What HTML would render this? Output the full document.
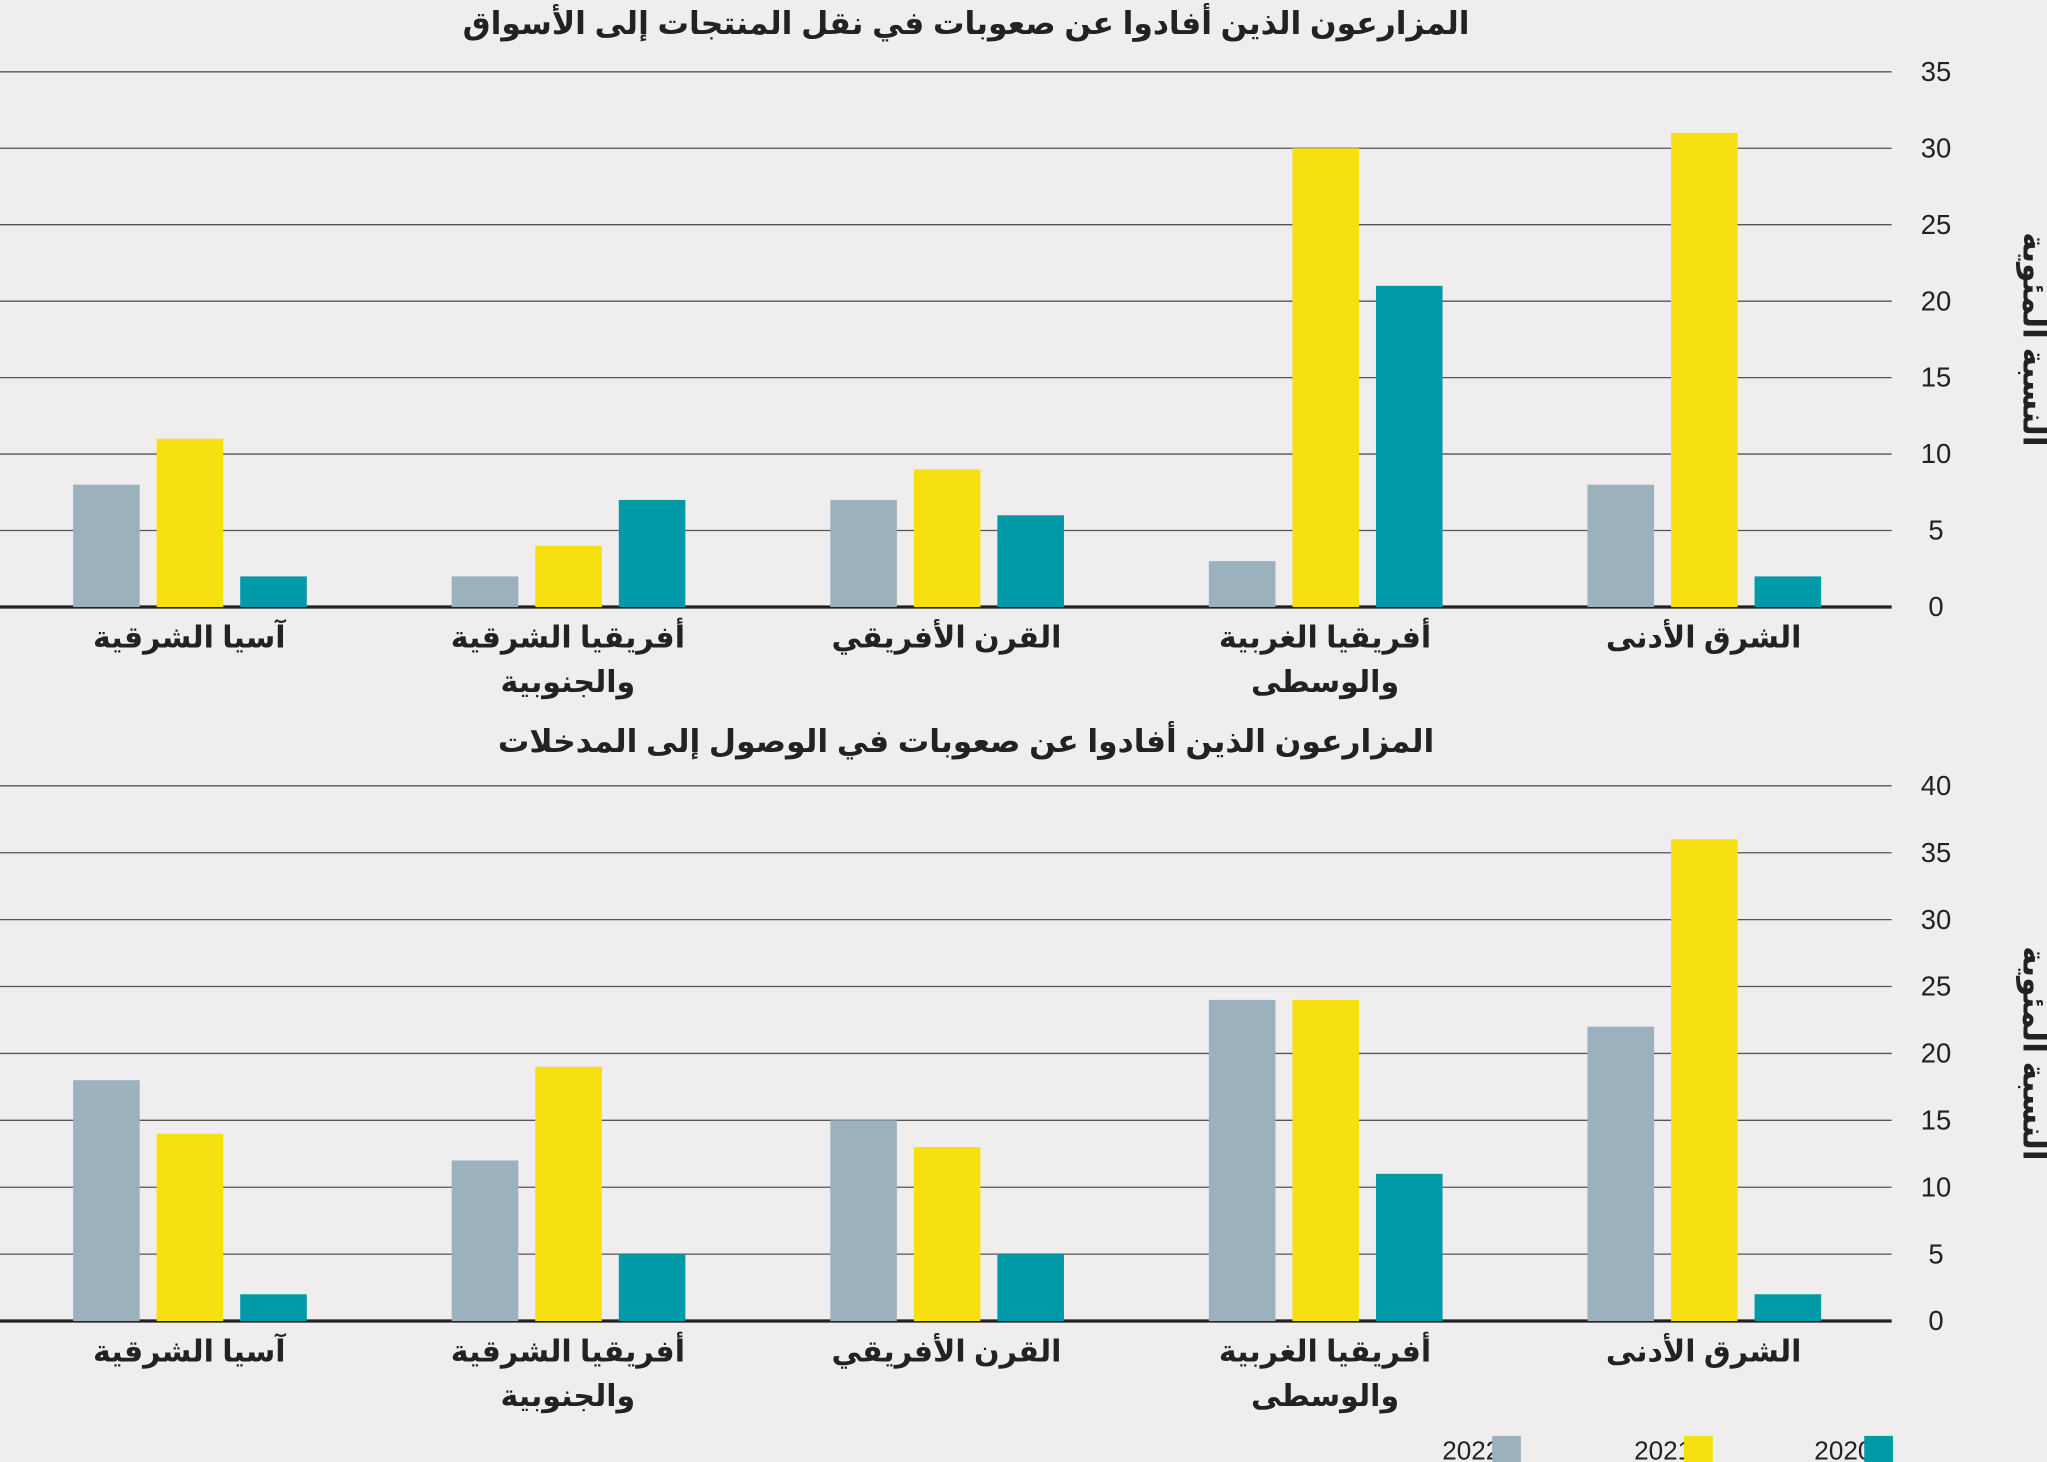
<!DOCTYPE html>
<html><head><meta charset="utf-8"><style>
html,body{margin:0;padding:0;background:#efeded;}
svg{display:block;font-family:"Liberation Sans","DejaVu Sans",sans-serif;}
</style></head><body>
<svg id="chart" width="2047" height="1462" viewBox="0 0 1568 1120" preserveAspectRatio="none" xmlns="http://www.w3.org/2000/svg">
<rect width="1568" height="1120" fill="#efeded"/>
<g id="g1"></g>
<g id="g2"></g>
<g id="legend"></g>
</svg>
<script>
const categories = [["آسيا الشرقية"],["أفريقيا الشرقية","والجنوبية"],["القرن الأفريقي"],["أفريقيا الغربية","والوسطى"],["الشرق الأدنى"]];
const years = ["2022","2021","2020"];
const colors = ["#9bb1be","#f6e012","#0099a8"];
const top2022 = [8,2,7,3,8];
const top2021 = [11,4,9,30,31];
const top2020 = [2,7,6,21,2];
const topTicks = [0,5,10,15,20,25,30,35];
const bot2022 = [18,12,15,24,22];
const bot2021 = [14,19,13,24,36];
const bot2020 = [2,5,5,11,2];
const botTicks = [0,5,10,15,20,25,30,35,40];
const NS="http://www.w3.org/2000/svg";
function mk(tag,attrs,parent){const e=document.createElementNS(NS,tag);for(const k in attrs)e.setAttribute(k,attrs[k]);parent.appendChild(e);return e;}
function drawChart(g,title,titleY,yTop,yBase,ticks,series,lblY,key){
  const max=ticks[ticks.length-1];
  const y=v=>yBase-(v/max)*(yBase-yTop);
  const t=mk('text',{x:740,y:titleY,'text-anchor':'middle','font-size':24,'font-weight':'bold',fill:'#222',direction:'rtl'},g);
  t.textContent=title;
  
  
  ticks.forEach(v=>{
    const l=mk('line',{x1:0,x2:1449,y1:y(v),y2:y(v),stroke:v===0?'#222':'#555','stroke-width':v===0?2.5:1},g);
    
    
    const tx=mk('text',{x:1483,y:y(v)+7,'text-anchor':'middle','font-size':21,fill:'#222'},g);
    tx.textContent=v;
    
    
  });
  const cy=(yTop+yBase)/2;
  const at=mk('text',{x:1550,y:cy,'text-anchor':'middle','font-size':24,'font-weight':'bold',fill:'#222',transform:'rotate(90 1550 '+cy+')',direction:'rtl'},g);
  at.textContent='النسبة المئوية';
  
  
  categories.forEach((c,i)=>{
    const gx=56+i*290;
    series.forEach((s,j)=>{
      const r=mk('rect',{x:gx+j*64,y:y(s[i]),width:51,height:yBase-y(s[i]),fill:colors[j]},g);
      
      
    });
    c.forEach((line,k)=>{
      const lt=mk('text',{x:gx+89,y:lblY+k*34,'text-anchor':'middle','font-size':23,'font-weight':'bold',fill:'#222',direction:'rtl'},g);
      lt.textContent=line;
      
      
    });
  });
}
drawChart(document.getElementById('g1'),'المزارعون الذين أفادوا عن صعوبات في نقل المنتجات إلى الأسواق',26,55,465,topTicks,[top2022,top2021,top2020],496,'markets');
drawChart(document.getElementById('g2'),'المزارعون الذين أفادوا عن صعوبات في الوصول إلى المدخلات',576,602,1012,botTicks,[bot2022,bot2021,bot2020],1043,'inputs');
const lg=document.getElementById('legend');
const lx=[1100,1247,1385];
years.forEach((yr,j)=>{
  const t=mk('text',{x:lx[j]+27,y:1118,'text-anchor':'middle','font-size':20,fill:'#222'},lg);
  t.textContent=yr;
  
  
  const r=mk('rect',{x:lx[j]+43,y:1100,width:22,height:22,fill:colors[j]},lg);
  
  
});
</script>
</body></html>
